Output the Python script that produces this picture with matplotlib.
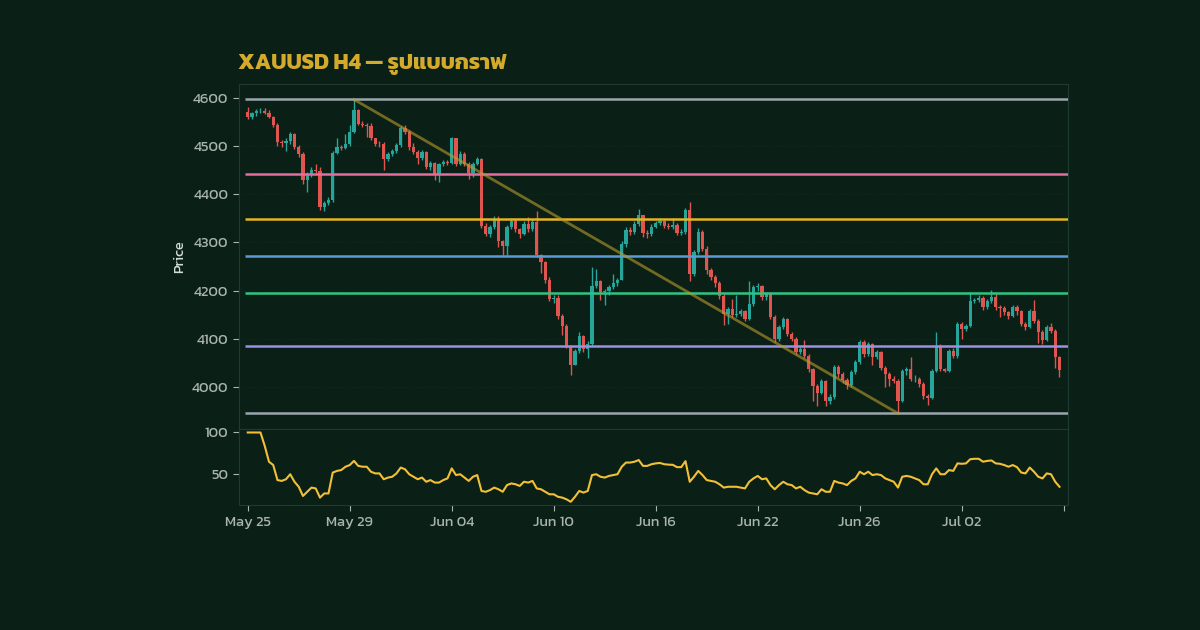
import matplotlib
matplotlib.use("Agg")
import matplotlib.pyplot as plt

# ── Data (H4 candles, weekends skipped) ─────────────────────────────────────
first_open = 4571
closes = [
    4561, 4568, 4573, 4574, 4569, 4561, 4545, 4508, 4507, 4510,
    4526, 4499, 4483, 4429, 4440, 4450, 4449, 4374, 4381, 4389,
    4485, 4499, 4497, 4504, 4530, 4575, 4547, 4544, 4541, 4516,
    4505, 4504, 4474, 4483, 4490, 4502, 4537, 4530, 4499, 4488,
    4476, 4488, 4457, 4465, 4443, 4462, 4467, 4466, 4516, 4464,
    4484, 4464, 4444, 4464, 4474, 4335, 4318, 4332, 4346, 4303,
    4293, 4332, 4344, 4327, 4318, 4339, 4327, 4342, 4273, 4259,
    4221, 4183, 4185, 4148, 4127, 4084, 4046, 4074, 4106, 4078,
    4090, 4210, 4219, 4197, 4199, 4207, 4215, 4221, 4297, 4326,
    4322, 4339, 4356, 4319, 4317, 4333, 4340, 4344, 4335, 4332,
    4337, 4320, 4322, 4367, 4235, 4280, 4322, 4287, 4242, 4228,
    4216, 4188, 4151, 4162, 4149, 4151, 4158, 4141, 4172, 4207,
    4209, 4186, 4193, 4145, 4099, 4124, 4141, 4110, 4099, 4072,
    4079, 4065, 4037, 4002, 3988, 4012, 3971, 3979, 4042, 4026,
    4014, 4004, 4030, 4051, 4094, 4068, 4090, 4063, 4072, 4040,
    4026, 4016, 4013, 3971, 4033, 4037, 4016, 4016, 4006, 3981,
    3976, 4033, 4085, 4037, 4033, 4074, 4065, 4131, 4120, 4127,
    4178, 4181, 4185, 4165, 4178, 4186, 4165, 4164, 4155, 4148,
    4165, 4157, 4131, 4125, 4158, 4137, 4113, 4097, 4124, 4117,
    4061, 4035,
]
highs = [
    4582, 4572, 4578, 4580, 4580, 4575, 4562, 4548, 4512, 4516,
    4530, 4528, 4502, 4487, 4446, 4457, 4462, 4457, 4387, 4395,
    4490, 4518, 4503, 4525, 4545, 4597, 4578, 4553, 4548, 4548,
    4518, 4510, 4508, 4487, 4495, 4507, 4541, 4544, 4533, 4506,
    4493, 4492, 4490, 4470, 4468, 4466, 4472, 4472, 4520, 4518,
    4489, 4488, 4468, 4468, 4477, 4476, 4340, 4337, 4354, 4354,
    4306, 4336, 4350, 4348, 4330, 4345, 4352, 4348, 4366, 4276,
    4262, 4228, 4190, 4190, 4152, 4130, 4088, 4078, 4115, 4108,
    4095, 4249, 4245, 4222, 4204, 4212, 4235, 4226, 4302, 4332,
    4333, 4344, 4370, 4358, 4325, 4338, 4345, 4350, 4347, 4340,
    4350, 4340, 4328, 4372, 4385, 4285, 4330, 4325, 4293, 4246,
    4232, 4220, 4192, 4166, 4182, 4190, 4162, 4160, 4220, 4212,
    4215, 4212, 4198, 4197, 4150, 4128, 4146, 4144, 4114, 4103,
    4083, 4097, 4068, 4040, 4005, 4016, 4015, 3985, 4046, 4046,
    4030, 4018, 4034, 4056, 4097, 4097, 4094, 4092, 4077, 4075,
    4044, 4030, 4022, 4016, 4038, 4042, 4063, 4025, 4020, 4010,
    3985, 4037, 4115, 4090, 4040, 4078, 4080, 4135, 4134, 4131,
    4197, 4185, 4190, 4188, 4182, 4202, 4195, 4170, 4168, 4158,
    4170, 4170, 4160, 4135, 4162, 4180, 4140, 4118, 4128, 4133,
    4120, 4065,
]
lows = [
    4557, 4556, 4562, 4569, 4566, 4558, 4540, 4500, 4498, 4490,
    4505, 4495, 4478, 4422, 4405, 4435, 4444, 4368, 4365, 4378,
    4385, 4483, 4493, 4494, 4500, 4528, 4543, 4540, 4520, 4512,
    4500, 4498, 4450, 4470, 4480, 4485, 4498, 4526, 4493, 4483,
    4464, 4472, 4452, 4450, 4429, 4425, 4458, 4460, 4462, 4458,
    4460, 4458, 4432, 4437, 4460, 4330, 4313, 4312, 4328, 4290,
    4273, 4273, 4328, 4322, 4310, 4315, 4322, 4324, 4270, 4237,
    4216, 4178, 4175, 4140, 4108, 4080, 4025, 4045, 4070, 4072,
    4060, 4085, 4205, 4180, 4170, 4190, 4203, 4210, 4221, 4290,
    4315, 4318, 4335, 4312, 4310, 4314, 4330, 4336, 4330, 4328,
    4328, 4316, 4316, 4318, 4220, 4230, 4275, 4282, 4235, 4222,
    4208, 4182, 4128, 4130, 4145, 4145, 4148, 4136, 4138, 4168,
    4200, 4180, 4180, 4140, 4094, 4095, 4120, 4105, 4095, 4068,
    4068, 4060, 4030, 3970, 3960, 3985, 3960, 3965, 3975, 4020,
    4008, 3995, 4000, 4026, 4048, 4062, 4064, 4046, 4058, 4035,
    4000, 4002, 4008, 3945, 3968, 4025, 4012, 4010, 4000, 3975,
    3962, 3975, 4030, 4032, 4030, 4030, 4060, 4060, 4100, 4116,
    4124, 4175, 4176, 4160, 4162, 4175, 4160, 4145, 4150, 4140,
    4145, 4150, 4126, 4118, 4122, 4132, 4092, 4090, 4095, 4112,
    4040, 4021,
]
rsi = [
    100, 100, 100, 100, 84, 65, 61, 43, 42, 44,
    50, 41, 35, 24, 29, 34, 33, 22, 27, 27,
    52, 54, 55, 59, 61, 66, 60, 59, 59, 53,
    51, 51, 44, 46, 47, 51, 58, 56, 50, 47,
    44, 46, 41, 43, 40, 40, 43, 45, 57, 49,
    50, 46, 42, 47, 49, 30, 29, 31, 34, 32,
    29, 37, 39, 38, 36, 41, 40, 42, 33, 32,
    29, 26, 26, 23, 22, 20, 17, 23, 30, 28,
    30, 49, 50, 47, 46, 48, 49, 50, 59, 64,
    64, 65, 67, 60, 60, 62, 63, 63.5, 62, 61.5,
    61.3, 58.5, 58.5, 65.7, 41, 47, 54, 49, 43, 42,
    41, 38, 34, 35, 35, 35, 34, 33, 41, 45,
    48, 44, 45, 37, 32, 37, 41, 38, 37, 33,
    35, 31, 28, 27, 26, 32, 29, 29, 42, 40,
    39, 37, 42, 45, 53, 50, 53, 49, 50, 49,
    45, 43, 41, 34, 47, 48, 47, 45, 43, 38,
    38, 50, 57, 50, 50, 55, 54, 63, 62.5, 63,
    68, 68.5, 68.5, 65, 66, 66.5, 63, 62.5, 61, 59,
    61, 58.5, 52, 51, 58, 53, 47, 45, 51, 50,
    41, 35,
]
fib_ratios = [0, 0.236, 0.382, 0.5, 0.618, 0.786, 1]
fib_colors = ["#9aa6ad", "#e46c9f", "#e5b323", "#5a9ad6", "#30c483", "#9d8fe3", "#9aa6ad"]
tick_labels = ["May 25", "May 29", "Jun 04", "Jun 10", "Jun 16",
               "Jun 22", "Jun 26", "Jul 02", ""]

BG = "#0a1f16"
UP = "#26a69a"
DOWN = "#e0554f"
TXT = "#a9b4ae"

plt.rcParams["font.family"] = ["Kanit", "DejaVu Sans"]

n = len(closes)
xs = list(range(n))
opens = [first_open] + closes[:-1]

fig = plt.figure(figsize=(12, 6.3), dpi=100, facecolor=BG)
ax = fig.add_axes([0.199, 0.319, 0.691, 0.548], facecolor=BG)
ax2 = fig.add_axes([0.199, 0.198, 0.691, 0.121], facecolor=BG, sharex=ax)

# ── Candles ──────────────────────────────────────────────────────────────────
for x, o, h, l, c in zip(xs, opens, highs, lows, closes):
    col = UP if c >= o else DOWN
    ax.vlines(x, l, h, color=col, linewidth=1.0, zorder=2)
    ax.bar(x, abs(c - o) or 1.0, bottom=min(o, c), width=0.78, color=col,
           linewidth=0, zorder=3)

# ── Fibonacci levels + trend line ───────────────────────────────────────────
hi = max(highs)
lo = min(lows)
i_hi = highs.index(hi)
i_lo = lows.index(lo)
for r, col in zip(fib_ratios, fib_colors):
    ax.hlines(hi - r * (hi - lo), -0.7, n + 1, color=col, linewidth=1.8, zorder=4)
ax.plot([i_hi, i_lo], [hi, lo], color="#b89b2c", alpha=0.6, linewidth=2, zorder=5)

ax.set_xlim(-2.1, n + 1)
ax.set_ylabel("Price", color="#d5ddd8", fontsize=10.5)
ax.tick_params(axis="y", colors=TXT, labelsize=10.5, length=4)
ax.tick_params(axis="x", bottom=False, labelbottom=False)
ax.set_yticks([4000, 4100, 4200, 4300, 4400, 4500, 4600])
ax.grid(axis="y", color="#152d1e", linewidth=0.6, linestyle=":")

# ── Oscillator ──────────────────────────────────────────────────────────────
ax2.plot(xs, rsi, color="#f2c037", linewidth=1.5)
ax2.set_yticks([50, 100])
ax2.set_xticks(range(0, n + 1, 24))
ax2.set_xticklabels(tick_labels)
ax2.tick_params(colors=TXT, labelsize=10.5, length=4)

for a in (ax, ax2):
    for s in a.spines.values():
        s.set_color("#1f3a2f")
        s.set_linewidth(0.8)

fig.text(0.198, 0.891, "XAUUSD H4 — รูปแบบกราฟ", color="#d4aa2c", fontsize=16,
         fontweight="bold")

fig.savefig("out.png", dpi=100, facecolor=BG)
